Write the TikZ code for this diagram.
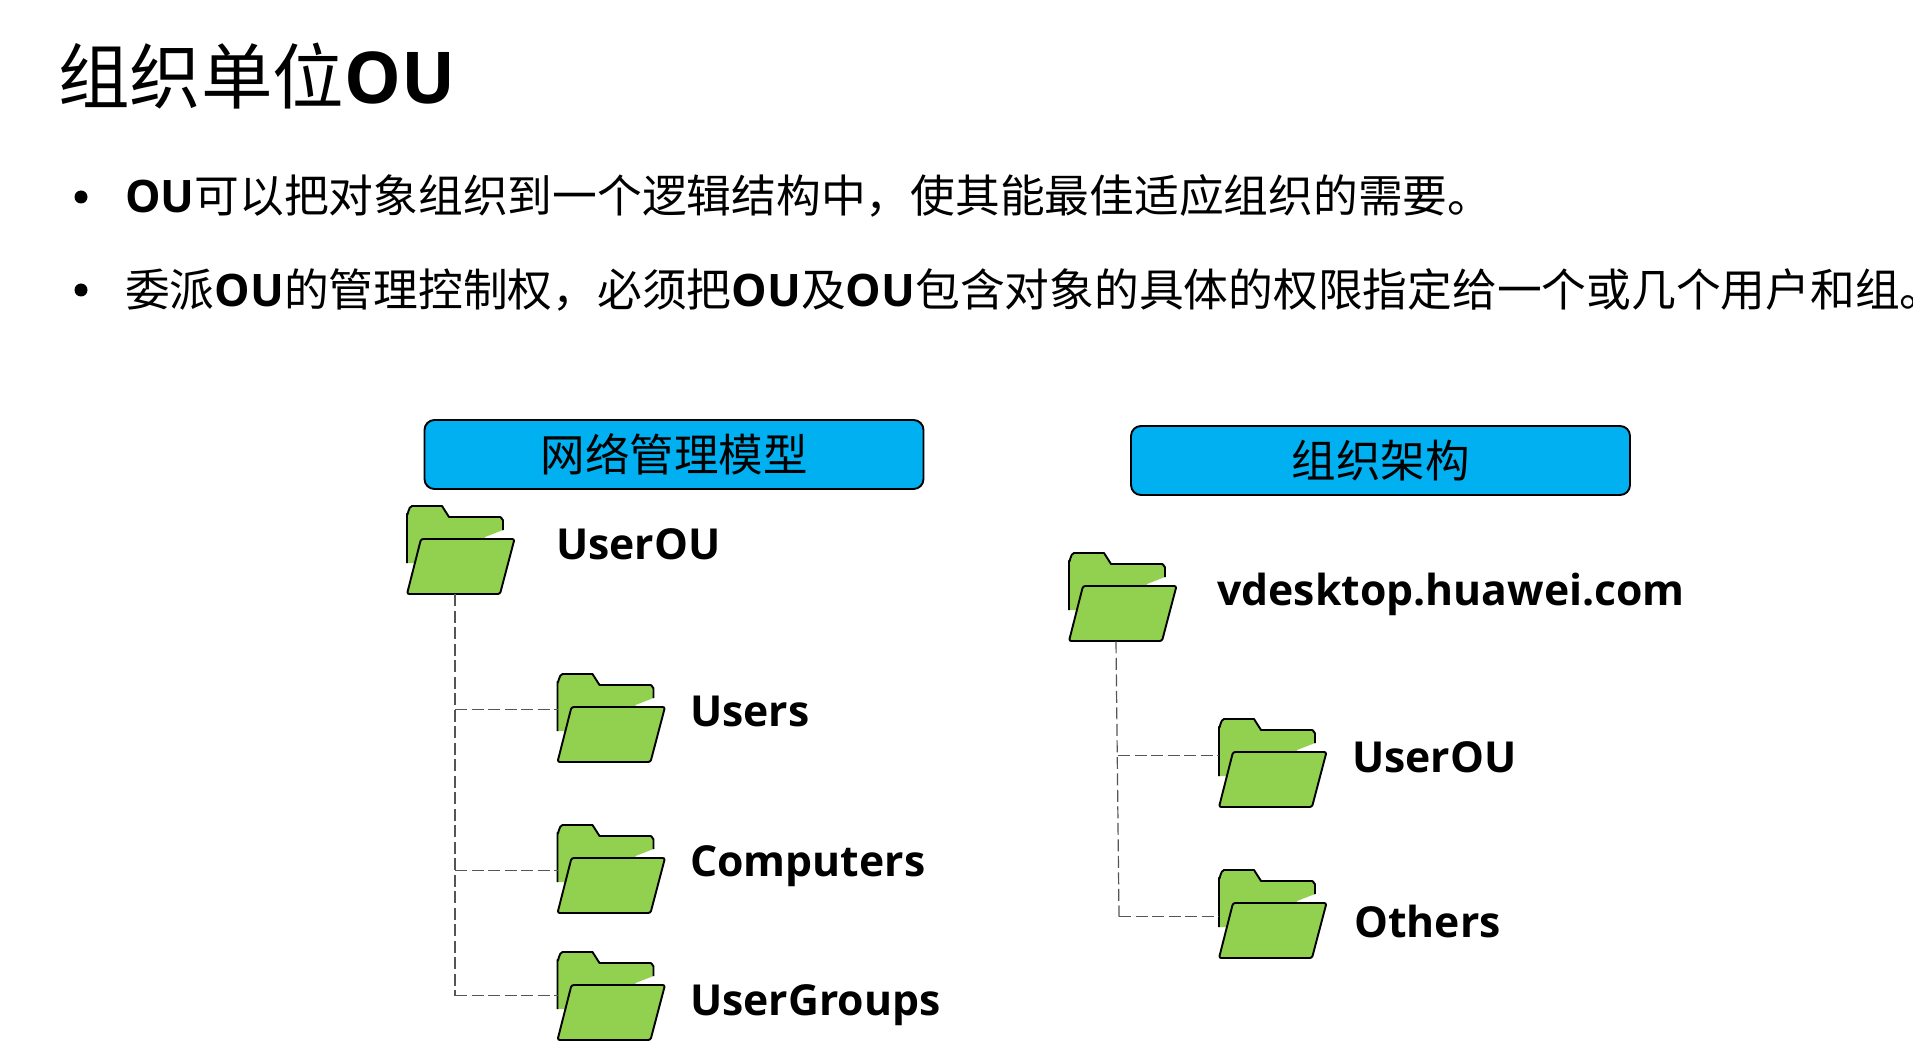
\documentclass[tikz,border=0pt]{standalone}
\usepackage{fontspec}
\usetikzlibrary{calc}
\setmainfont{Open Sans}
\newfontfamily\cjk{Noto Sans CJK SC}
\newfontfamily\lat{Open Sans}[Scale=1.0]
\definecolor{folderg}{HTML}{92D050}
\definecolor{headb}{HTML}{00B0F0}
\definecolor{treeg}{HTML}{555555}
\newcommand{\B}[1]{{\lat\bfseries #1}}
\newcommand{\folder}[4]{%
  \node[folderbase] (#1) at (#2,#3) {};
  \coordinate (#1-in) at (#2,#3+#4);
  \begin{scope}[shift={(#2,#3)}]
    \fill[folderg] (0,59) -- (0,10) -- (5,2) -- (35,2) -- (42,13) -- (93,13) -- (96,16) -- (96,26) -- (78,33) -- (78,60) -- cycle;
    \draw[folderline, line cap=butt] (0,59) -- (0,10) to[out=-80,in=180] (5,2) -- (35,2) -- (42,13) -- (93,13) to[out=0,in=-90] (96,16) -- (96,26);
    \draw[folderline, fill=folderg, rounded corners=2.2pt] (14,35) -- (107.5,35) -- (93,90) -- (0,90) -- cycle;
  \end{scope}}
\tikzset{
  x=1pt, y=-1pt,
  folderbase/.style={anchor=north west, inner sep=0pt, minimum width=108pt, minimum height=90pt},
  folderline/.style={draw=black, line width=1.9pt, line join=round},
  header/.style={draw=black, line width=1.9pt, fill=headb, rounded corners=10pt, inner sep=0pt, minimum width=499pt, minimum height=69pt, font=\cjk\fontsize{44.5}{50}\selectfont},
  tree/.style={draw=treeg, line width=1.2pt, dash pattern=on 12pt off 4.5pt},
  flabel/.style={anchor=base west, inner sep=0pt, font=\lat\bfseries\fontsize{42.7}{48}\selectfont},
  body/.style={anchor=base west, inner sep=0pt, font=\cjk\fontsize{44.75}{50}\selectfont},
  bullet/.style={circle, fill=black, inner sep=0pt, minimum size=13pt},
}
\begin{document}
\begin{tikzpicture}
\useasboundingbox (0,0) rectangle (1913,1056);
\fill[white] (0,0) rectangle (1913,1056);
\node[body, font=\cjk\fontsize{71.5}{80}\selectfont] (title) at (58,104) {组织单位\B{OU}};
\node[bullet] (b1) at (81,197) {};
\node[bullet] (b2) at (81,290) {};
\node[body] (l1) at (125,213) {\B{OU}可以把对象组织到一个逻辑结构中，使其能最佳适应组织的需要。};
\node[body] (l2) at (125,307) {委派\B{OU}的管理控制权，必须把\B{OU}及\B{OU}包含对象的具体的权限指定给一个或几个用户和组。};
\node[header] (h1) at (674,454.5) {网络管理模型};
\node[header] (h2) at (1380.5,460.5) {组织架构};
\folder{root}{407}{504}{37}
\folder{users}{557.5}{672}{37.5}
\folder{comp}{557.5}{823}{47.5}
\folder{ugrp}{557.5}{950}{45.5}
\folder{vd}{1069}{551}{37}
\folder{uou}{1219}{717}{38.5}
\folder{oth}{1219}{868}{48.5}
\node[flabel] (troot) at (556,559) {UserOU};
\node[flabel] (tusers) at (690,726) {Users};
\node[flabel] (tcomp) at (690,876) {Computers};
\node[flabel] (tugrp) at (690,1015) {UserGroups};
\node[flabel] (tvd) at (1217,605) {vdesktop.huawei.com};
\node[flabel] (tuou) at (1352,772) {UserOU};
\node[flabel] (toth) at (1354,937) {Others};
\coordinate (rt) at ($(root.south west)+(48,0)$);
\coordinate (vt) at ($(vd.south west)+(47,0)$);
\draw[tree] (rt) -- (rt |- ugrp-in);
\draw[tree] (rt |- users-in) -- (users-in);
\draw[tree] (rt |- comp-in) -- (comp-in);
\draw[tree] (rt |- ugrp-in) -- (ugrp-in);
\draw[tree] (vt) -- ($(vt |- oth-in)+(3,0)$);
\draw[tree] ($(vt |- uou-in)+(2,0)$) -- (uou-in);
\draw[tree] ($(vt |- oth-in)+(3,0)$) -- (oth-in);
\end{tikzpicture}
\end{document}
